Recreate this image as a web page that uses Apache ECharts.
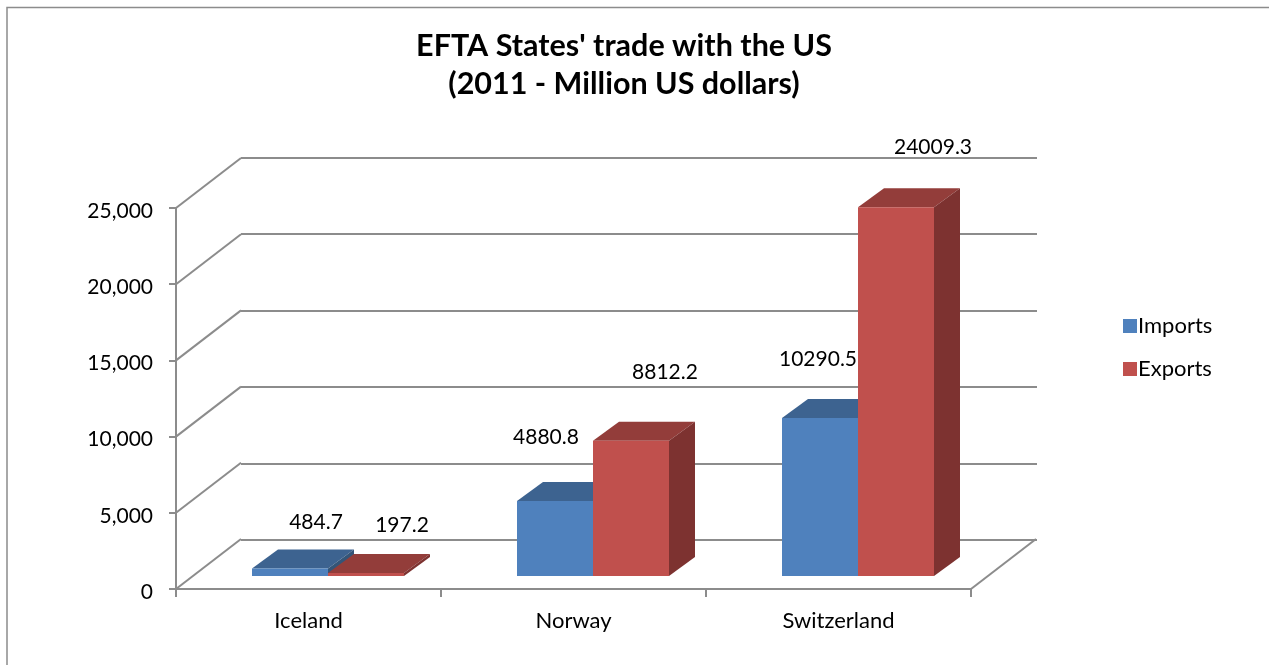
<!DOCTYPE html>
<html><head><meta charset="utf-8">
<style>html,body{margin:0;padding:0;background:#fff}#c{width:1269px;height:665px}</style>
<script src="https://cdn.jsdelivr.net/npm/echarts@6/dist/echarts.min.js"></script>
</head><body><div id="c"></div>
<script>
const categories = ['Iceland', 'Norway', 'Switzerland'];
const imports = [484.7, 4880.8, 10290.5];
const exports_ = [197.2, 8812.2, 24009.3];
const yTicks = [0, 5000, 10000, 15000, 20000, 25000];
const titleLines = "EFTA States' trade with the US\n(2011 - Million US dollars)";

// layout only: label nudges relative to the top-centre of each bar
const importLabelNudge = [[26, -46], [-9, -64], [-2, -59]];
const exportLabelNudge = [[36, -48], [34, -68], [37, -60]];

const FONT = 'Lato, "Open Sans", sans-serif';
const AXIS = '#8c8c8c';
const WALL_DX = 65, WALL_DY = -50;
const BAR_DX = 26, BAR_DY = -19;
const BAR_RATIO = 76 / 265;

function barSeries(name, values, side, colors, nudges) {
  return {
    type: 'custom', name, xAxisIndex: 2, yAxisIndex: 2, z: 5,
    itemStyle: { color: colors.front },
    data: values.map((v, i) => [i, v]),
    encode: { x: 0, y: 1 },
    renderItem(params, api) {
      const i = api.value(0), v = api.value(1);
      const top = api.coord([i, v]), base = api.coord([i, 0]);
      const w = api.size([1, 0])[0] * BAR_RATIO;
      const x0 = top[0] + (side < 0 ? -w : 0), x1 = x0 + w;
      const y0 = top[1], y1 = base[1];
      const n = nudges[i];
      return { type: 'group', children: [
        { type: 'polygon', shape: { points: [[x0, y0], [x1, y0], [x1 + BAR_DX, y0 + BAR_DY], [x0 + BAR_DX, y0 + BAR_DY]] }, style: { fill: colors.top } },
        { type: 'polygon', shape: { points: [[x1, y0], [x1 + BAR_DX, y0 + BAR_DY], [x1 + BAR_DX, y1 + BAR_DY], [x1, y1]] }, style: { fill: colors.side } },
        { type: 'rect', shape: { x: x0, y: y0, width: w, height: y1 - y0 }, style: { fill: colors.front } },
        { type: 'text', z2: 50, style: { x: (x0 + x1) / 2 + n[0], y: y0 + n[1], text: v.toFixed(1), fill: '#000', font: '21px ' + FONT, align: 'center', verticalAlign: 'middle' } }
      ] };
    }
  };
}

const hiddenCat = i => ({ type: 'category', gridIndex: i, data: categories, show: false });
const hiddenVal = (i, split) => ({
  type: 'value', gridIndex: i, min: 0, max: 25000, interval: 5000,
  axisLine: { show: false }, axisTick: { show: false }, axisLabel: { show: false },
  splitLine: { show: split, lineStyle: { color: AXIS, width: 2 } }
});

const option = {
  animation: false,
  backgroundColor: '#fff',
  title: { text: titleLines, left: 619, top: 22, textAlign: 'center',
    textStyle: { fontFamily: FONT, fontSize: 30.5, fontWeight: 'bold', color: '#000', lineHeight: 38 } },
  legend: { orient: 'vertical', left: 1118, top: 310, itemWidth: 14, itemHeight: 14, itemGap: 21,
    icon: 'rect', data: ['Imports', 'Exports'],
    textStyle: { fontFamily: FONT, fontSize: 22, color: '#000', padding: [0, 0, 0, -4] } },
  graphic: [{ type: 'polyline', shape: { points: [[7, 665], [7, 7.5], [1269, 7.5]] }, style: { fill: 'none', stroke: AXIS, lineWidth: 1.5 }, z: 0, silent: true }],
  grid: [
    { left: 176, top: 208, width: 795, height: 381 },
    { left: 241, top: 157.5, width: 796, height: 382.5 },
    { left: 195.5, top: 192, width: 795, height: 384 }
  ],
  xAxis: [
    { type: 'category', gridIndex: 0, data: categories,
      axisLine: { lineStyle: { color: AXIS, width: 2 } },
      axisTick: { show: true, length: 8, alignWithLabel: false, lineStyle: { color: AXIS, width: 2 } },
      axisLabel: { fontFamily: FONT, fontSize: 22, color: '#000', margin: 21 } },
    hiddenCat(1), hiddenCat(2)
  ],
  yAxis: [
    { type: 'value', gridIndex: 0, min: 0, max: 25000, interval: 5000,
      axisLine: { show: true, lineStyle: { color: AXIS, width: 2 } },
      axisTick: { show: true, length: 7, lineStyle: { color: AXIS, width: 2 } },
      axisLabel: { fontFamily: FONT, fontSize: 21, color: '#000', margin: 23, verticalAlign: 'top', lineHeight: 6,
        formatter: v => v.toLocaleString('en-US') },
      splitLine: { show: false } },
    hiddenVal(1, true), hiddenVal(2, false)
  ],
  series: [
    { type: 'custom', name: 'walls', xAxisIndex: 0, yAxisIndex: 0, z: 2, silent: true,
      data: yTicks.map(t => [0, t]), encode: { x: 0, y: 1 },
      renderItem(params, api) {
        const t = api.value(1), y = api.coord([0, t])[1];
        const l = params.coordSys.x, r = l + params.coordSys.width;
        const seg = x => ({ type: 'line', shape: { x1: x, y1: y, x2: x + WALL_DX, y2: y + WALL_DY }, style: { stroke: AXIS, lineWidth: 2, fill: null } });
        return { type: 'group', children: t === 0 ? [seg(l), seg(r)] : [seg(l)] };
      } },
    barSeries('Imports', imports, -1, { front: '#4F81BD', top: '#3D6390', side: '#345578' }, importLabelNudge),
    barSeries('Exports', exports_, 1, { front: '#C0504D', top: '#933D3A', side: '#7D3230' }, exportLabelNudge)
  ]
};
const chart = echarts.init(document.getElementById('c'));
chart.setOption(option);
</script></body></html>
